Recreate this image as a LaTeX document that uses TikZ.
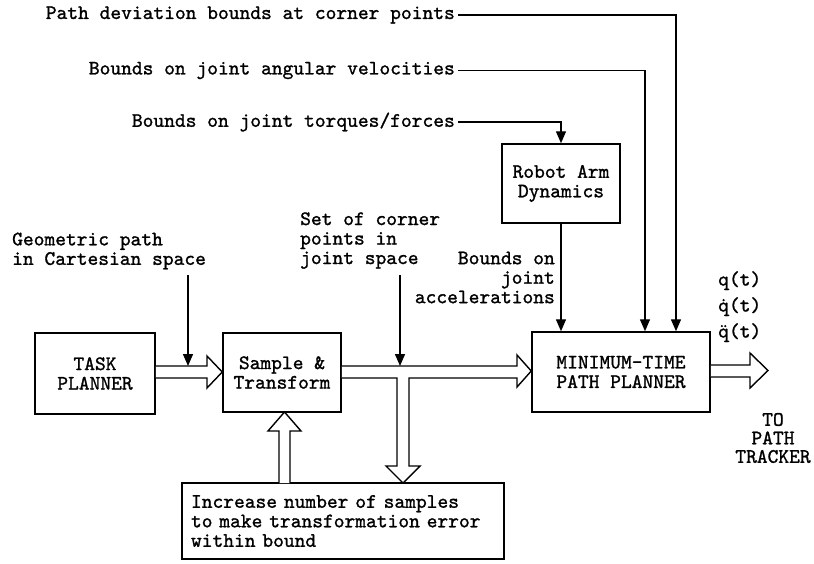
\documentclass[tikz,border=0pt]{standalone}
\usepackage{fontspec}
\newfontfamily\lbl{lmmono10-regular.otf}[FakeBold=1.2]
\usetikzlibrary{arrows.meta,calc}

\begin{document}
\begin{tikzpicture}[x=1pt,y=-1pt,
  every node/.style={font=\lbl\fontsize{20.5}{19.5}\selectfont},
  blockbox/.style={draw,line width=1.5pt,align=center,inner sep=0pt},
  txt/.style={inner sep=0pt},
  feed/.style={line width=1.4pt,-{Triangle[length=12pt,width=10pt]}},
  hollow/.style={draw,line width=1.4pt,fill=white,line join=miter},
  qlab/.style={txt,anchor=west,text height=13pt,text depth=4pt}
]
\useasboundingbox (0,0) rectangle (814,563);

% blocks
\node[blockbox,minimum width=120,minimum height=81] (task) at (95,373.5) {TASK\\PLANNER};
\node[blockbox,minimum width=118,minimum height=79] (sample) at (282,372.5) {Sample \&\\Transform};
\node[blockbox,minimum width=118,minimum height=79] (robot) at (561,183.5) {Robot Arm\\Dynamics};
\node[blockbox,minimum width=178,minimum height=80] (mtpp) at (621,372) {MINIMUM-TIME\\PATH PLANNER};
\node[blockbox,minimum width=322,minimum height=76,text width=304,align=left] (incr) at (343,521)
  {Increase number of samples\\to make transformation error\\within bound};

% input bounds at the top
\node[txt,anchor=east] (pdev) at (455,15) {Path deviation bounds at corner points};
\node[txt,anchor=east] (vel) at (455,70.5) {Bounds on joint angular velocities};
\node[txt,anchor=east] (torq) at (455,122) {Bounds on joint torques/forces};

\draw[feed] ([xshift=3pt]pdev.east) -| ([xshift=55pt]mtpp.north);
\draw[feed] ([xshift=3pt]vel.east) -| ([xshift=24pt]mtpp.north);
\draw[feed] ([xshift=3pt]torq.east) -| (robot.north);
\draw[feed] (robot.south) -- (robot.south |- mtpp.north);

% side labels
\node[txt,anchor=east,align=right] (acc) at (555,277.5) {Bounds on\\joint\\accelerations};
\node[txt,anchor=west,align=left] (geo) at (12,251) {Geometric path\\in Cartesian space};
\node[txt,anchor=west,align=left] (corner) at (300,240.5) {Set of corner\\points in\\joint space};

% label pointers onto the flow arrows
\coordinate (gtop) at (188,275);
\coordinate (gbot) at (188,366);
\coordinate (ctop) at (400,275);
\coordinate (cbot) at (400,366);

% hollow flow arrows
\draw[hollow] (task.east |- 0,366) -- (207,366) -- (207,356) -- (sample.west |- 0,372)
  -- (207,388) -- (207,378) -- (task.east |- 0,378);
\draw[hollow] (sample.east |- 0,366) -- (517,366) -- (517,355) -- (mtpp.west |- 0,371)
  -- (517,387) -- (517,378) -- (409,378) -- (409,466) -- (420,466) -- (403,483)
  -- (386,466) -- (397,466) -- (397,378) -- (sample.east |- 0,378);
\draw[hollow] (279,483) -- (279,431) -- (268,431) -- (284.5,412) -- (301,431)
  -- (290,431) -- (290,483);
\coordinate (out) at (768,370.5);
\draw[hollow] (mtpp.east |- 0,365) -- (750,365) -- (750,353) -- (out)
  -- (750,388) -- (750,377) -- (mtpp.east |- 0,377);

\draw[feed] (gtop) -- (gbot);
\draw[feed] (ctop) -- (cbot);

% outputs
\node[qlab] (q0) at (718,281) {q(t)};
\node[qlab] (q1) at (718,307) {\.{q}(t)};
\node[qlab] (q2) at (718,333) {\"{q}(t)};
\node[txt,align=center,font=\lbl\fontsize{20.5}{18.5}\selectfont] (trk) at (773,438) {TO\\PATH\\TRACKER};
\end{tikzpicture}
\end{document}
